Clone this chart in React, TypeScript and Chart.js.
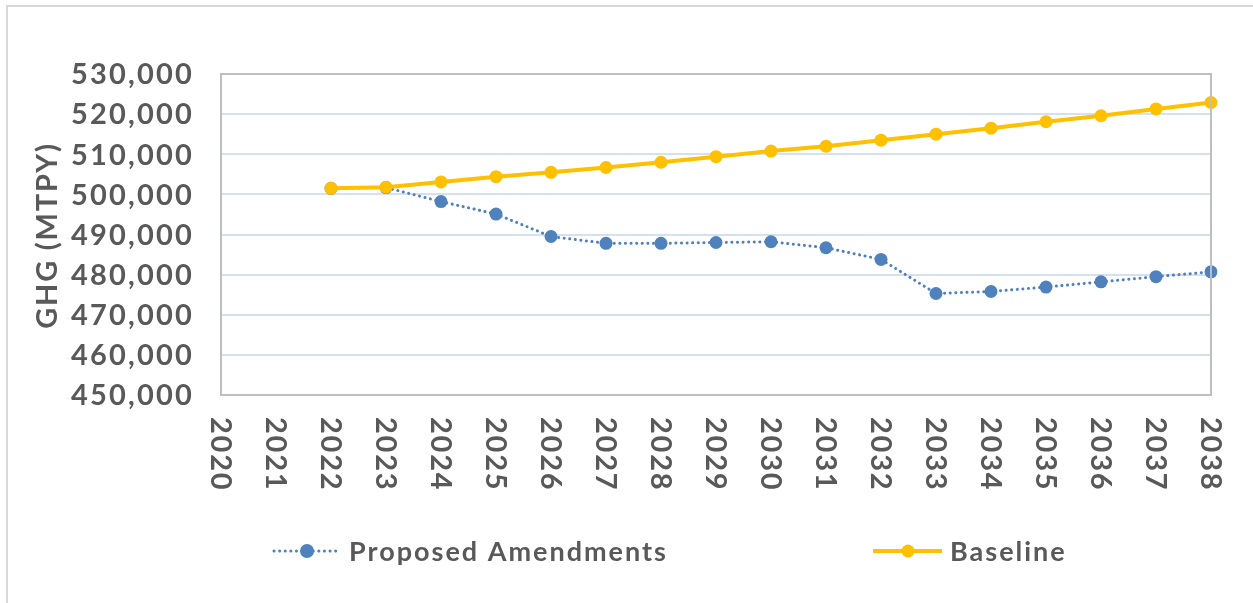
import React, { useEffect, useRef } from "react";
import { Chart, registerables } from "chart.js";

Chart.register(...registerables);

const years: string[] = [
  "2020", "2021", "2022", "2023", "2024", "2025", "2026", "2027", "2028", "2029",
  "2030", "2031", "2032", "2033", "2034", "2035", "2036", "2037", "2038",
];

const proposedAmendments: (number | null)[] = [
  null, null, 501500, 501700, 498200, 495100, 489500, 487800, 487800, 488000,
  488200, 486700, 483800, 475300, 475800, 476900, 478200, 479500, 480700,
];

const baseline: (number | null)[] = [
  null, null, 501500, 501800, 503100, 504400, 505500, 506700, 508000, 509400,
  510800, 512000, 513500, 515000, 516500, 518100, 519600, 521300, 522900,
];

const yTicks: number[] = [450000, 460000, 470000, 480000, 490000, 500000, 510000, 520000, 530000];

const yTitle = "GHG (MTPY)";
const seriesNames = ["Proposed Amendments", "Baseline"];

const BLUE = "#4F81BD";
const GOLD = "#FFC000";
const TEXT = "#595959";
const FONT = "Lato";

const customDraw = {
  id: "customDraw",
  afterDraw(chart: any) {
    const ctx = chart.ctx as any;
    const area = chart.chartArea;
    const xs = chart.scales.x;
    const ys = chart.scales.y;
    ctx.save();
    // plot border
    ctx.strokeStyle = "#BFBFBF";
    ctx.lineWidth = 2;
    ctx.strokeRect(area.left, area.top, area.right - area.left, area.bottom - area.top);

    ctx.fillStyle = TEXT;
    ctx.font = `bold 29px ${FONT}`;

    // y tick labels
    ctx.letterSpacing = "2.2px";
    ctx.textAlign = "right";
    ctx.textBaseline = "middle";
    yTicks.forEach((v) => {
      const y = ys.getPixelForValue(v);
      ctx.fillText(v.toLocaleString("en-US"), 194, y + 1);
    });

    // x labels rotated clockwise
    ctx.letterSpacing = "1.8px";
    ctx.textAlign = "left";
    ctx.textBaseline = "middle";
    years.forEach((lab, i) => {
      const x = xs.getPixelForValue(i);
      ctx.save();
      ctx.translate(x, area.bottom + 22);
      ctx.rotate(Math.PI / 2);
      ctx.fillText(lab, 0, 1);
      ctx.restore();
    });

    // y title
    ctx.save();
    ctx.letterSpacing = "1.8px";
    ctx.translate(48, (area.top + area.bottom) / 2 + 1);
    ctx.rotate(-Math.PI / 2);
    ctx.textAlign = "center";
    ctx.textBaseline = "middle";
    ctx.fillText(yTitle, 0, 0);
    ctx.restore();

    // legend
    const ly = 551;
    ctx.letterSpacing = "2px";
    ctx.font = `bold 27px ${FONT}`;
    ctx.textAlign = "left";
    ctx.textBaseline = "middle";
    // proposed
    ctx.strokeStyle = BLUE;
    ctx.lineWidth = 3;
    ctx.lineCap = "round";
    ctx.setLineDash([0.1, 5.5]);
    ctx.beginPath();
    ctx.moveTo(274, ly);
    ctx.lineTo(338, ly);
    ctx.stroke();
    ctx.setLineDash([]);
    ctx.fillStyle = BLUE;
    ctx.beginPath();
    ctx.arc(307, ly, 7, 0, Math.PI * 2);
    ctx.fill();
    ctx.fillStyle = TEXT;
    ctx.fillText(seriesNames[0], 349, ly + 1);
    // baseline
    ctx.strokeStyle = GOLD;
    ctx.lineWidth = 4;
    ctx.lineCap = "butt";
    ctx.beginPath();
    ctx.moveTo(873, ly);
    ctx.lineTo(942, ly);
    ctx.stroke();
    ctx.fillStyle = GOLD;
    ctx.beginPath();
    ctx.arc(908, ly, 6.5, 0, Math.PI * 2);
    ctx.fill();
    ctx.fillStyle = TEXT;
    ctx.fillText(seriesNames[1], 950, ly + 1);
    ctx.restore();
  },
};

export default function App() {
  const ref = useRef<HTMLCanvasElement | null>(null);

  useEffect(() => {
    if (!ref.current) return;
    const chart = new Chart(ref.current, {
      type: "line",
      data: {
        labels: years,
        datasets: [
          {
            label: seriesNames[0],
            data: proposedAmendments,
            borderColor: BLUE,
            backgroundColor: BLUE,
            borderWidth: 3,
            borderDash: [0.1, 5.5],
            borderCapStyle: "round",
            pointRadius: 6.5,
            pointBackgroundColor: BLUE,
            pointBorderWidth: 0,
            tension: 0,
            order: 2,
          },
          {
            label: seriesNames[1],
            data: baseline,
            borderColor: GOLD,
            backgroundColor: GOLD,
            borderWidth: 4,
            pointRadius: 6.5,
            pointBackgroundColor: GOLD,
            pointBorderWidth: 0,
            tension: 0,
            order: 1,
          },
        ],
      },
      options: {
        animation: false,
        responsive: false,
        devicePixelRatio: 1,
        layout: { padding: { left: 0, top: 74, right: 42, bottom: 0 } },
        plugins: {
          legend: { display: false },
          tooltip: { enabled: false },
        },
        scales: {
          x: {
            offset: false,
            grid: { display: false, drawTicks: false },
            border: { display: false },
            ticks: { display: false },
            afterFit: (s: any) => {
              s.height = 603 - 395;
            },
          },
          y: {
            min: 450000,
            max: 530000,
            grid: {
              color: "#D3E1F0",
              lineWidth: 2,
              drawTicks: false,
            },
            border: { display: false },
            ticks: { stepSize: 10000, display: false },
            afterFit: (s: any) => {
              s.width = 221;
            },
          },
        },
      },
      plugins: [customDraw],
    });
    return () => chart.destroy();
  }, []);

  return (
    <div style={{ position: "fixed", left: 0, top: 0, width: 1253, height: 603, background: "#fff" }}>
      <div
        style={{
          position: "absolute",
          left: 6,
          top: 5,
          width: 1300,
          height: 700,
          border: "2px solid #D9D9D9",
        }}
      />
      <canvas ref={ref} width={1253} height={603} style={{ position: "absolute", left: 0, top: 0 }} />
    </div>
  );
}
